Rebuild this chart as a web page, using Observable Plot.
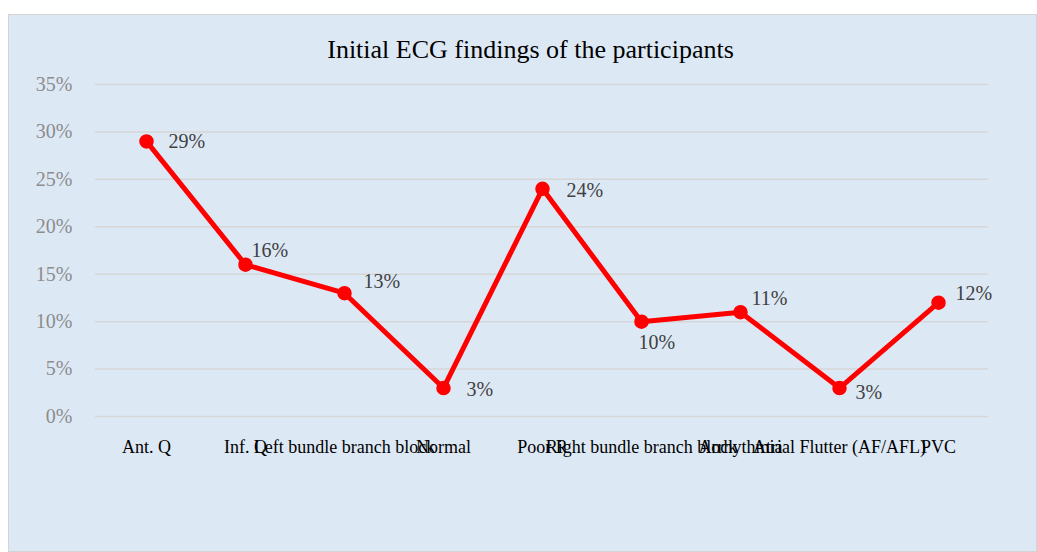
<!DOCTYPE html>
<html>
<head>
<meta charset="utf-8">
<script src="https://cdn.jsdelivr.net/npm/d3@7"></script>
<script src="https://cdn.jsdelivr.net/npm/@observablehq/plot@0.6"></script>
<style>
  html, body { margin: 0; padding: 0; background: #ffffff; width: 1037px; height: 552px; overflow: hidden; }
  #panel { position: absolute; left: 8px; top: 14px; width: 1027px; height: 536px; background: #dde8f5; border: 1px solid #d4d4d4; }
  #title { height: 56px; box-sizing: border-box; padding-top: 20px; padding-left: 16px; text-align: center; font-family: "Liberation Serif", "Times New Roman", serif; font-size: 26px; line-height: 30px; color: #000; }
  #chart svg { display: block; }
</style>
</head>
<body>
<div id="panel">
  <div id="title">Initial ECG findings of the participants</div>
  <div id="chart"></div>
</div>
<script>
const categories = ["Ant. Q", "Inf. Q", "Left bundle branch block", "Normal", "Poor R", "Right bundle branch block", "Arrhythmia", "Atrial Flutter (AF/AFL)", "PVC"];
const values = [29, 16, 13, 3, 24, 10, 11, 3, 12];
const yTicks = [0, 5, 10, 15, 20, 25, 30, 35];

// label placement (style): pixel offsets of each data label from its point
const labelDx = [22, 6, 19, 23, 24, -3, 11, 16, 17];
const labelDy = [0, -14, -12, 2, 2, 21, -14, 5, -9];

const data = categories.map((c, i) => ({category: c, value: values[i], i}));

const chart = Plot.plot({
  width: 1027,
  height: 480,
  marginLeft: 86,
  marginRight: 48,
  marginTop: 13,
  marginBottom: 135,
  style: { background: "transparent", fontFamily: "'Liberation Serif', 'Times New Roman', serif" },
  x: { type: "point", domain: categories, padding: 0.5, label: null },
  y: { domain: [0, 35], ticks: yTicks, label: null },
  marks: [
    Plot.ruleY(yTicks, { stroke: "#d6d6d6", strokeWidth: 1.5 }),
    Plot.axisY({ ticks: yTicks, tickFormat: d => d + "%", tickSize: 0, tickPadding: 23, fontSize: 20, color: "#8c8c8c", label: null }),
    Plot.axisX({ tickSize: 0, tickPadding: 24, fontSize: 18, color: "#000", label: null }),
    Plot.line(data, { x: "category", y: "value", stroke: "#ff0000", strokeWidth: 5 }),
    Plot.dot(data, { x: "category", y: "value", r: 6.5, fill: "#ff0000", stroke: "#ff0000" }),
    ...data.map(d => Plot.text([d], { x: "category", y: "value", text: v => v.value + "%", textAnchor: "start", dx: labelDx[d.i], dy: labelDy[d.i], fontSize: 20, fill: "#404040" }))
  ]
});
document.getElementById("chart").appendChild(chart);
</script>
</body>
</html>
